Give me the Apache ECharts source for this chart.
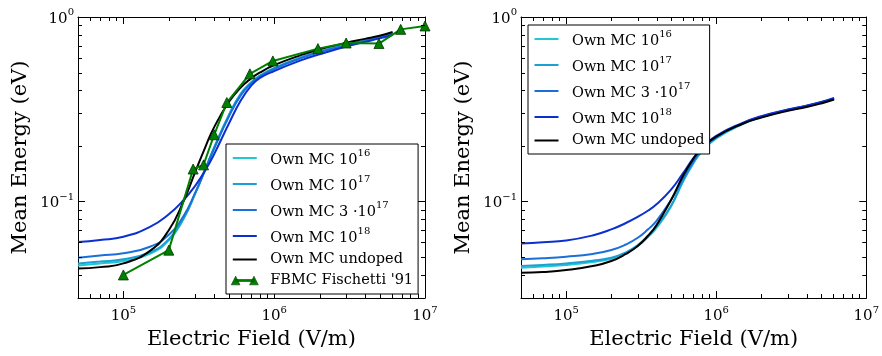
<!DOCTYPE html>
<html>
<head>
<meta charset="utf-8">
<script src="https://cdn.jsdelivr.net/npm/echarts@6/dist/echarts.min.js"></script>
<style>
  html, body { margin: 0; padding: 0; background: #fff; }
  #chart { width: 882px; height: 356px; }
</style>
</head>
<body>
<div id="chart"></div>
<script>
// Electric field sample points (V/m) shared by the Monte Carlo curves
const fieldGrid = [5e4, 7e4, 1e5, 1.5e5, 2e5, 2.5e5, 3e5, 3.5e5, 4e5, 5e5, 6e5, 7e5, 8e5,
                   1e6, 1.5e6, 2e6, 3e6, 4e6, 5e6, 6.1e6];

// Left panel: mean energy (eV) per doping level
const leftMC1e16  = [0.045, 0.0462, 0.0476, 0.0521, 0.0617, 0.0804, 0.111, 0.151, 0.197, 0.295, 0.385, 0.4416, 0.481, 0.53, 0.604, 0.65, 0.706, 0.745, 0.776, 0.813];
const leftMC1e17  = [0.0462, 0.0473, 0.0486, 0.0531, 0.0624, 0.0807, 0.111, 0.150, 0.195, 0.292, 0.381, 0.438, 0.478, 0.527, 0.601, 0.647, 0.704, 0.743, 0.774, 0.811];
const leftMC3e17  = [0.0496, 0.051, 0.0524, 0.0569, 0.066, 0.0832, 0.112, 0.15, 0.194, 0.288, 0.376, 0.435, 0.474, 0.524, 0.598, 0.646, 0.703, 0.741, 0.773, 0.809];
const leftMC1e18  = [0.0603, 0.0619, 0.0644, 0.0728, 0.0853, 0.1016, 0.122, 0.148, 0.181, 0.264, 0.353, 0.422, 0.466, 0.51, 0.582, 0.628, 0.692, 0.733, 0.766, 0.802];
const leftUndoped = [0.0433, 0.0441, 0.0462, 0.054, 0.0699, 0.1, 0.145, 0.198, 0.253, 0.346, 0.415, 0.4635, 0.499, 0.548, 0.6215, 0.668, 0.724, 0.761, 0.792, 0.829];

// Full-band Monte Carlo reference points (Fischetti 1991)
const fbmcField  = [1e5, 2e5, 2.9e5, 3.4e5, 4e5, 4.85e5, 6.9e5, 9.8e5, 1.95e6, 3e6, 4.95e6, 6.9e6, 1e7];
const fbmcEnergy = [0.040, 0.0545, 0.150, 0.158, 0.230, 0.344, 0.492, 0.578, 0.674, 0.723, 0.718, 0.857, 0.894];

// Right panel: mean energy (eV) per doping level
const rightMC1e16  = [0.0438, 0.0445, 0.0453, 0.047, 0.049, 0.0525, 0.0575, 0.064, 0.072, 0.094, 0.128, 0.16, 0.186, 0.22, 0.263, 0.287, 0.312, 0.328, 0.343, 0.36];
const rightMC1e17  = [0.0447, 0.0453, 0.0462, 0.0478, 0.0496, 0.053, 0.058, 0.065, 0.073, 0.095, 0.129, 0.161, 0.187, 0.221, 0.264, 0.288, 0.313, 0.329, 0.344, 0.361];
const rightMC3e17  = [0.0486, 0.0492, 0.0502, 0.052, 0.0546, 0.0585, 0.0636, 0.0705, 0.0785, 0.102, 0.133, 0.164, 0.19, 0.223, 0.265, 0.289, 0.314, 0.33, 0.345, 0.362];
const rightMC1e18  = [0.0593, 0.0602, 0.0615, 0.0655, 0.0706, 0.0765, 0.0826, 0.0891, 0.0966, 0.116, 0.142, 0.1706, 0.195, 0.227, 0.267, 0.29, 0.315, 0.331, 0.346, 0.364];
const rightUndoped = [0.0411, 0.0415, 0.0425, 0.0447, 0.0476, 0.052, 0.0574, 0.065, 0.0745, 0.102, 0.1374, 0.169, 0.194, 0.225, 0.264, 0.285, 0.31, 0.325, 0.34, 0.357];

// Axis ranges
const xRange = [5e4, 1e7];
const yRange = [0.03, 1];

const names = ['Own MC 10^16', 'Own MC 10^17', 'Own MC 3 \u00b710^17', 'Own MC 10^18', 'Own MC undoped', "FBMC Fischetti '91"];
const colors = ['#22c8cf', '#1ba0d4', '#1a70d8', '#0c30cf', '#000000', '#008000'];

const FONT = 'DejaVu Serif';

// legend glyphs: a short bar for the curves, bar with two triangles for the markers
const ICON_LINE = 'path://M0,0L0,0M1.5,5L25.5,5L25.5,7L1.5,7ZM27,12L27,12';
const ICON_TRI  = 'path://M0,0L0,0M4,5L23,5L23,7L4,7ZM4,1.5L8.5,10.5L-0.5,10.5ZM23,1.5L27.5,10.5L18.5,10.5ZM27,12L27,12';

function pairs(xs, ys) { return xs.map((x, i) => [x, ys[i]]); }

function powLabel(v) {
  const l = Math.log10(v);
  const e = Math.round(l);
  if (Math.abs(l - e) > 1e-6) return '';
  return '{b|10}{s|' + String(e).replace('-', '\u2212') + '}';
}

function legendLabel(name) {
  const m = name.match(/^(.*)\^(\d+)$/);
  if (m) return '{b|' + m[1] + '}{s|' + m[2] + '}';
  return '{b|' + name + '}';
}

// minor tick positions on log axes: 2..9 x 10^n
function minorTicks() {
  const out = [];
  for (let n = 4; n <= 6; n++) for (let k = 2; k <= 9; k++) {
    const v = k * Math.pow(10, n);
    if (v > xRange[0] && v < xRange[1]) out.push([v, yRange[0], 0]);
  }
  for (let n = -2; n <= -1; n++) for (let k = 2; k <= 9; k++) {
    const v = k * Math.pow(10, n);
    if (v > yRange[0] && v < yRange[1]) out.push([xRange[0], v, 1]);
  }
  return out;
}

function minorTickSeries(xi, yi) {
  return {
    type: 'custom',
    name: 'minor' + xi,
    xAxisIndex: xi, yAxisIndex: yi,
    silent: true, z: 10, clip: false,
    data: minorTicks(),
    encode: { x: 0, y: 1 },
    renderItem: function (params, api) {
      const L = 4;
      const st = { stroke: '#000', lineWidth: 1 };
      if (api.value(2) === 0) {
        const v = api.value(0);
        const pb = api.coord([v, yRange[0]]);
        const pt = api.coord([v, yRange[1]]);
        const x = Math.round(pb[0]) + 0.5;
        return { type: 'group', children: [
          { type: 'line', shape: { x1: x, y1: pb[1], x2: x, y2: pb[1] - L }, style: st },
          { type: 'line', shape: { x1: x, y1: pt[1], x2: x, y2: pt[1] + L }, style: st }
        ]};
      }
      const v = api.value(1);
      const pl = api.coord([xRange[0], v]);
      const pr = api.coord([xRange[1], v]);
      const y = Math.round(pl[1]) + 0.5;
      return { type: 'group', children: [
        { type: 'line', shape: { x1: pl[0], y1: y, x2: pl[0] + L, y2: y }, style: st },
        { type: 'line', shape: { x1: pr[0], y1: y, x2: pr[0] - L, y2: y }, style: st }
      ]};
    }
  };
}

const tickRich = {
  b: { fontFamily: FONT, fontSize: 15, color: '#000', verticalAlign: 'bottom' },
  s: { fontFamily: FONT, fontSize: 10, color: '#000', verticalAlign: 'top', padding: [0, 0, 9, 0] }
};

function xAxisDef(gi, top) {
  return {
    type: 'log', logBase: 10, gridIndex: gi,
    position: top ? 'top' : 'bottom',
    min: xRange[0], max: xRange[1],
    axisLine: { show: true, lineStyle: { color: '#000', width: 1 } },
    axisTick: { show: true, inside: true, length: 7, lineStyle: { color: '#000', width: 1 } },
    axisLabel: top ? { show: false } : {
      show: true, margin: 7, formatter: powLabel, rich: tickRich,
      showMinLabel: false
    },
    splitLine: { show: false },
    name: top ? '' : 'Electric Field (V/m)',
    nameLocation: 'middle', nameGap: 31,
    nameTextStyle: { fontFamily: FONT, fontSize: 21, color: '#000' }
  };
}

function yAxisDef(gi, right) {
  return {
    type: 'log', logBase: 10, gridIndex: gi,
    position: right ? 'right' : 'left',
    min: yRange[0], max: yRange[1],
    axisLine: { show: true, lineStyle: { color: '#000', width: 1 } },
    axisTick: { show: true, inside: true, length: 7, lineStyle: { color: '#000', width: 1 } },
    axisLabel: right ? { show: false } : {
      show: true, margin: 4, formatter: powLabel, rich: tickRich,
      showMinLabel: false
    },
    splitLine: { show: false },
    name: right ? '' : 'Mean Energy (eV)',
    nameLocation: 'middle', nameGap: 47,
    nameTextStyle: { fontFamily: FONT, fontSize: 21, color: '#000' }
  };
}

function lineSeries(name, xi, yi, data, color) {
  return {
    type: 'line', name: name, xAxisIndex: xi, yAxisIndex: yi,
    data: data, showSymbol: false, symbol: 'none',
    smooth: 0.5,
    lineStyle: { color: color, width: 2 }, itemStyle: { color: color },
    clip: true
  };
}

const legendText = {
  fontFamily: FONT, fontSize: 14.5, color: '#000', padding: [0, 0, 0, 7],
  rich: {
    b: { fontFamily: FONT, fontSize: 14.5, color: '#000', verticalAlign: 'bottom' },
    s: { fontFamily: FONT, fontSize: 10, color: '#000', verticalAlign: 'top', padding: [0, 0, 10, 0] }
  }
};

function legendItems(list) {
  return list.map(n => n.indexOf('FBMC') === 0
    ? { name: n, icon: ICON_TRI, itemStyle: { color: colors[5], borderColor: '#0a3d0a', borderWidth: 0.6 } }
    : { name: n, icon: ICON_LINE, itemStyle: { borderWidth: 0 } });
}

function legendDef(left, top, list) {
  return {
    orient: 'vertical', left: left, top: top,
    data: legendItems(list), formatter: legendLabel, textStyle: legendText,
    itemWidth: 27, itemHeight: 12, itemGap: 6,
    padding: [4, 5, 6, 5],
    backgroundColor: '#fff', borderColor: '#000', borderWidth: 1, borderRadius: 0,
    selectedMode: false
  };
}

const option = {
  animation: false,
  backgroundColor: '#fff',
  grid: [
    { left: 78, top: 17, width: 347, height: 281 },
    { left: 521, top: 17, width: 347, height: 281 }
  ],
  xAxis: [xAxisDef(0, false), xAxisDef(0, true), xAxisDef(1, false), xAxisDef(1, true)],
  yAxis: [yAxisDef(0, false), yAxisDef(0, true), yAxisDef(1, false), yAxisDef(1, true)],
  legend: [
    legendDef(226, 144, names),
    legendDef(528, 25, names.slice(0, 5))
  ],
  series: [
    lineSeries(names[0], 0, 0, pairs(fieldGrid, leftMC1e16), colors[0]),
    lineSeries(names[1], 0, 0, pairs(fieldGrid, leftMC1e17), colors[1]),
    lineSeries(names[2], 0, 0, pairs(fieldGrid, leftMC3e17), colors[2]),
    lineSeries(names[3], 0, 0, pairs(fieldGrid, leftMC1e18), colors[3]),
    lineSeries(names[4], 0, 0, pairs(fieldGrid, leftUndoped), colors[4]),
    {
      type: 'line', name: names[5], xAxisIndex: 0, yAxisIndex: 0,
      data: pairs(fbmcField, fbmcEnergy),
      symbol: 'triangle', symbolSize: 10, showSymbol: true,
      lineStyle: { color: colors[5], width: 2 },
      itemStyle: { color: colors[5], borderColor: '#003300', borderWidth: 0.8 },
      clip: false
    },
    lineSeries(names[0], 2, 2, pairs(fieldGrid, rightMC1e16), colors[0]),
    lineSeries(names[1], 2, 2, pairs(fieldGrid, rightMC1e17), colors[1]),
    lineSeries(names[2], 2, 2, pairs(fieldGrid, rightMC3e17), colors[2]),
    lineSeries(names[3], 2, 2, pairs(fieldGrid, rightMC1e18), colors[3]),
    lineSeries(names[4], 2, 2, pairs(fieldGrid, rightUndoped), colors[4]),
    minorTickSeries(0, 0),
    minorTickSeries(2, 2)
  ]
};

const chart = echarts.init(document.getElementById('chart'), null, { renderer: 'canvas' });
chart.setOption(option);
</script>
</body>
</html>
